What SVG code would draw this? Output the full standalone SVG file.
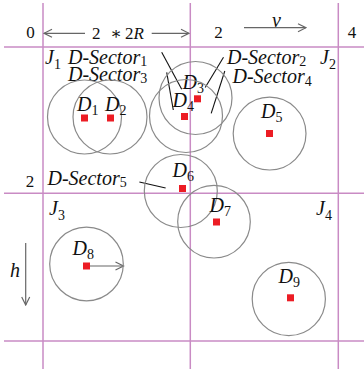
<svg xmlns="http://www.w3.org/2000/svg" width="364" height="374" viewBox="0 0 364 374">
<defs>
<style>
.grid{stroke:#c98bc4;stroke-width:1.5;fill:none}
.disk{stroke:#8a8a8a;stroke-width:1.2;fill:none}
.dot{fill:#ec1c24}
.lead{stroke:#111;stroke-width:1.1;fill:none}
.arr{stroke:#666;stroke-width:1.2;fill:none}
text{font-family:"Liberation Serif","DejaVu Serif",serif;fill:#111}
.it{font-style:italic;font-size:20px}
.num{font-size:17px}
.sub{font-style:normal;font-size:14px}
</style>
<marker id="ah" viewBox="0 0 10 10" refX="9" refY="5" markerWidth="10" markerHeight="10" markerUnits="userSpaceOnUse" orient="auto">
<path d="M1,1 L9,5 L1,9" fill="none" stroke="#666" stroke-width="1.2"/>
</marker>
</defs>
<rect width="364" height="374" fill="#fff"/>
<g id="grid">
<line class="grid" x1="43" y1="3" x2="43" y2="369"/>
<line class="grid" x1="190.3" y1="3" x2="190.3" y2="369"/>
<line class="grid" x1="338.3" y1="3" x2="338.3" y2="369"/>
<line class="grid" x1="4" y1="47" x2="364" y2="47"/>
<line class="grid" x1="4" y1="193.3" x2="364" y2="193.3"/>
<line class="grid" x1="4" y1="341" x2="364" y2="341"/>
</g>
<g id="axis-labels">
<text class="num" x="30.5" y="37.5" text-anchor="middle">0</text>
<text class="num" x="218.5" y="37.5" text-anchor="middle">2</text>
<text class="num" x="352" y="37.5" text-anchor="middle">4</text>
<text class="num" x="30" y="187" text-anchor="middle">2</text>
<text class="num" x="92" y="38.5">2</text>
<text class="num" x="110.5" y="38.5">∗</text>
<text class="num" x="125" y="38.5">2<tspan font-style="italic">R</tspan></text>
<text class="it" x="272" y="26.5" font-size="18">ν</text>
<text class="it" x="10" y="277" font-size="19">h</text>
</g>
<g id="connectors">
<line class="arr" x1="85" y1="33.3" x2="44" y2="33.3" marker-end="url(#ah)"/>
<line class="arr" x1="151.7" y1="33.3" x2="189" y2="33.3" marker-end="url(#ah)"/>
<line class="arr" x1="244" y1="27.7" x2="306" y2="27.7" marker-end="url(#ah)"/>
<line class="arr" x1="25.7" y1="243" x2="25.7" y2="305" marker-end="url(#ah)"/>
<line class="arr" x1="90" y1="266" x2="123.5" y2="266" marker-end="url(#ah)"/>
<line class="lead" x1="161.7" y1="52.3" x2="181.7" y2="89.3"/>
<line class="lead" x1="166.7" y1="72.3" x2="173.3" y2="110"/>
<line class="lead" x1="223.5" y1="57.3" x2="205.2" y2="87.5"/>
<line class="lead" x1="224.8" y1="71" x2="211.2" y2="113.3"/>
<line class="lead" x1="139.4" y1="182" x2="165.6" y2="188"/>
</g>
<g id="sector-labels">
<text class="it" x="68" y="63.5">D-Sector<tspan class="sub" dy="2.5">1</tspan></text>
<text class="it" x="68" y="80.5">D-Sector<tspan class="sub" dy="2.5">3</tspan></text>
<text class="it" x="227" y="63.5">D-Sector<tspan class="sub" dy="2.5">2</tspan></text>
<text class="it" x="232.5" y="83">D-Sector<tspan class="sub" dy="2.5">4</tspan></text>
<text class="it" x="47.5" y="184.5">D-Sector<tspan class="sub" dy="2.5">5</tspan></text>
</g>
<g id="J1"><text class="it" x="45" y="64">J<tspan class="sub" dy="5">1</tspan></text></g>
<g id="J2"><text class="it" x="320" y="63.5">J<tspan class="sub" dy="5">2</tspan></text></g>
<g id="J3"><text class="it" x="49" y="215">J<tspan class="sub" dy="5">3</tspan></text></g>
<g id="J4"><text class="it" x="316" y="215">J<tspan class="sub" dy="5">4</tspan></text></g>
<g id="D1"><circle class="disk" cx="84.5" cy="117" r="37"/><rect class="dot" x="81" y="114.5" width="7" height="7"/><text class="it" x="77" y="111">D<tspan class="sub" dy="4">1</tspan></text></g>
<g id="D2"><circle class="disk" cx="110" cy="117" r="37"/><rect class="dot" x="107" y="114.5" width="7" height="7"/><text class="it" x="105" y="110.5">D<tspan class="sub" dy="4">2</tspan></text></g>
<g id="D3"><circle class="disk" cx="195.5" cy="98" r="36.5"/><rect class="dot" x="194" y="95.3" width="7" height="7"/><text class="it" x="182.5" y="89.3">D<tspan class="sub" dy="4">3</tspan></text></g>
<g id="D4"><circle class="disk" cx="186" cy="116" r="36.5"/><rect class="dot" x="181" y="113" width="7" height="7"/><text class="it" x="172.5" y="106.7">D<tspan class="sub" dy="4">4</tspan></text></g>
<g id="D5"><circle class="disk" cx="269.6" cy="133.6" r="36.4"/><rect class="dot" x="266" y="130" width="7" height="7"/><text class="it" x="261" y="118.3">D<tspan class="sub" dy="4">5</tspan></text></g>
<g id="D6"><circle class="disk" cx="180.8" cy="191" r="36.5"/><rect class="dot" x="179" y="185" width="7" height="7"/><text class="it" x="172.5" y="176.7">D<tspan class="sub" dy="4">6</tspan></text></g>
<g id="D7"><circle class="disk" cx="214" cy="221.7" r="36.3"/><rect class="dot" x="213" y="218.5" width="7" height="7"/><text class="it" x="209.5" y="211.7">D<tspan class="sub" dy="4">7</tspan></text></g>
<g id="D8"><circle class="disk" cx="86.5" cy="264" r="36.8"/><rect class="dot" x="83" y="262.5" width="7" height="7"/><text class="it" x="72.5" y="255">D<tspan class="sub" dy="4">8</tspan></text></g>
<g id="D9"><circle class="disk" cx="288.8" cy="299" r="36.6"/><rect class="dot" x="287" y="294.3" width="7" height="7"/><text class="it" x="278.5" y="283.3">D<tspan class="sub" dy="4">9</tspan></text></g>
</svg>
